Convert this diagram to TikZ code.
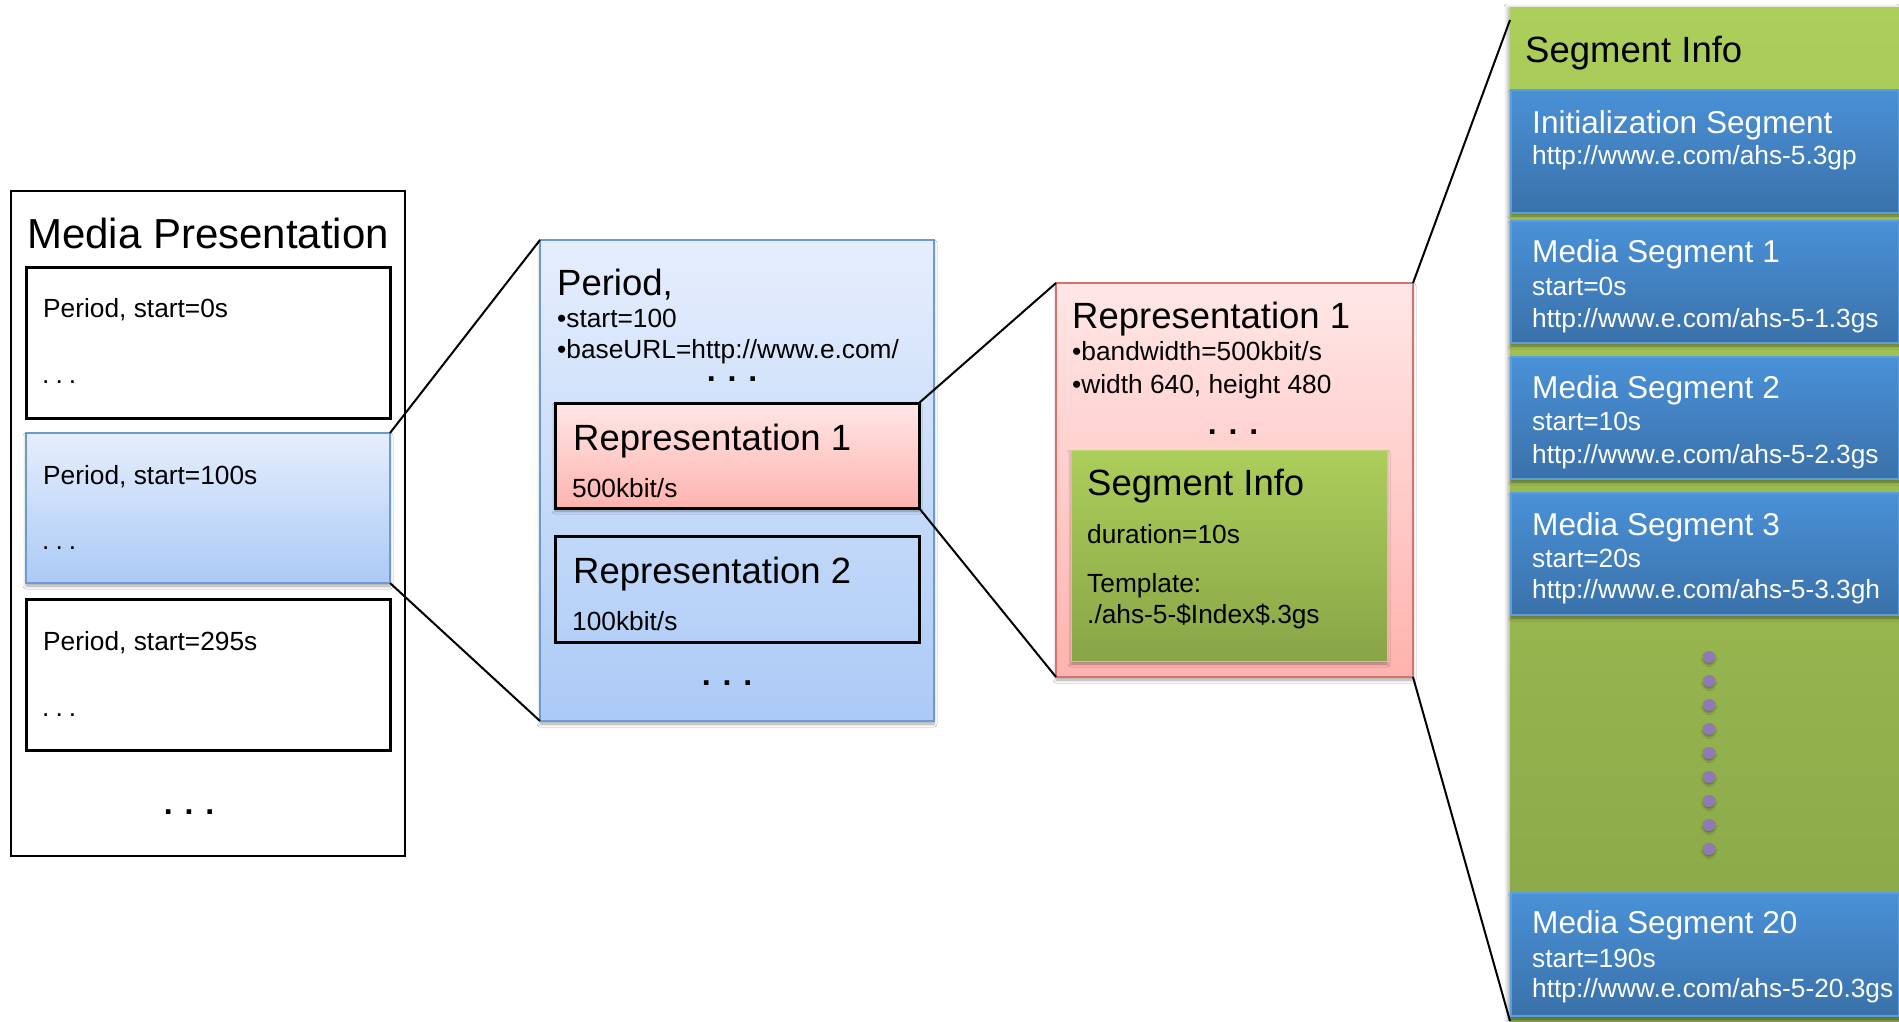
\documentclass[tikz,border=0pt]{standalone}
\usepackage{fontspec}
\setmainfont{Liberation Sans}
\usetikzlibrary{shadows.blur}

\definecolor{perTop}{HTML}{E6EEFD}
\definecolor{perBot}{HTML}{ABCAF6}
\definecolor{perLine}{HTML}{6C9BD4}
\definecolor{repTop}{HTML}{FFE7E7}
\definecolor{repBot}{HTML}{FFB3AE}
\definecolor{repLine}{HTML}{D7726B}
\definecolor{grnTop}{HTML}{ACCE5B}
\definecolor{grnBot}{HTML}{88A547}
\definecolor{segTop}{HTML}{4A91D8}
\definecolor{segBot}{HTML}{3A71A9}
\definecolor{segLine}{HTML}{5C9DDB}
\definecolor{dotPurple}{HTML}{9079B6}

\newcommand\fsz[1]{\fontsize{#1}{#1}\selectfont}
\newcommand\spdots{.\hspace{6pt}.\hspace{6pt}.}

\tikzset{
  x=1pt, y=-1pt,
  frame/.style={rectangle, inner sep=0pt, anchor=north west, outer sep=0pt},
  plainbox/.style={frame, draw=black, line width=3pt},
  periodbox/.style={frame, draw=perLine, line width=1.5pt, top color=perTop, bottom color=perBot,
    blur shadow={shadow xshift=0pt, shadow yshift=-3pt, shadow blur radius=3pt, shadow opacity=35}},
  repsmall/.style={frame, draw=black, line width=3pt, top color=repTop, bottom color=repBot,
    blur shadow={shadow xshift=0pt, shadow yshift=-3pt, shadow blur radius=3pt, shadow opacity=35}},
  repbig/.style={frame, draw=repLine, line width=1.5pt, top color=repTop, bottom color=repBot,
    blur shadow={shadow xshift=0pt, shadow yshift=-3pt, shadow blur radius=3pt, shadow opacity=35}},
  greenbox/.style={frame, draw=grnTop!80!white, line width=1pt, top color=grnTop, bottom color=grnBot,
    blur shadow={shadow xshift=0pt, shadow yshift=-3pt, shadow blur radius=3pt, shadow opacity=35}},
  segbox/.style={frame, draw=segLine, line width=1.2pt, top color=segTop, bottom color=segBot,
    blur shadow={shadow xshift=0pt, shadow yshift=-3pt, shadow blur radius=3pt, shadow opacity=40}},
  lbl/.style={inner sep=0pt, anchor=base west},
  big/.style={lbl, font=\fsz{36.5}},
  body/.style={lbl, font=\fsz{26.3}},
  segtitle/.style={lbl, font=\fsz{31.6}, text=white},
  segtext/.style={lbl, font=\fsz{26.3}, text=white},
  bigdots/.style={inner sep=0pt, anchor=center, font=\fsz{32}\bfseries},
  smalldots/.style={inner sep=0pt, anchor=west, font=\fsz{26.3}},
  link/.style={draw=black, line width=2pt},
  seqdot/.style={circle, fill=dotPurple, minimum size=12pt, inner sep=0pt,
    blur shadow={shadow xshift=0pt, shadow yshift=-2pt, shadow blur radius=1.5pt, shadow opacity=30}},
}

\begin{document}
\begin{tikzpicture}
\useasboundingbox (0,0) rectangle (1899,1021);
\fill[white] (0,0) rectangle (1899,1021);

% ---------- Media Presentation ----------
\node[frame, draw=black, line width=2pt, minimum width=394pt, minimum height=665pt] (mp) at (11,191) {};
\node[lbl, font=\fsz{42}] (mptitle) at (27,248) {Media Presentation};

\node[plainbox, minimum width=364pt, minimum height=151pt] (per1) at (26,267) {};
\node[body] (per1t) at (43,317) {Period, start=0s};
\node[smalldots] (per1d) at (42,382) {\spdots};

\node[periodbox, minimum width=364pt, minimum height=150pt] (per2) at (26,433) {};
\node[body] (per2t) at (43,484) {Period, start=100s};
\node[smalldots] (per2d) at (42,548) {\spdots};

\node[plainbox, minimum width=364pt, minimum height=151pt] (per3) at (26,599) {};
\node[body] (per3t) at (43,650) {Period, start=295s};
\node[smalldots] (per3d) at (42,715) {\spdots};

\node[bigdots] (mpdots) at (189,812) {. . .};

% ---------- Period detail ----------
\node[periodbox, minimum width=394pt, minimum height=481pt] (period) at (540,240) {};
\node[big] (periodt) at (557,295) {Period,};
\node[body] (periods) at (557,327) {•start=100};
\node[body] (periodb) at (557,358) {•baseURL=http://www.e.com/};
\node[bigdots] (perioddots1) at (732,379) {. . .};

\node[repsmall, minimum width=364pt, minimum height=105pt] (rep1s) at (555,403) {};
\node[big] (rep1st) at (573,450) {Representation 1};
\node[body] (rep1sb) at (572,497) {500kbit/s};

\node[plainbox, minimum width=364pt, minimum height=106pt] (rep2s) at (555,536) {};
\node[big] (rep2st) at (573,583) {Representation 2};
\node[body] (rep2sb) at (572,630) {100kbit/s};

\node[bigdots] (perioddots2) at (727,683) {. . .};

% ---------- Representation detail ----------
\node[repbig, minimum width=357pt, minimum height=394pt] (rep) at (1056,283) {};
\node[big] (rept) at (1072,328) {Representation 1};
\node[body] (repb) at (1072,360) {•bandwidth=500kbit/s};
\node[body] (repw) at (1072,393) {•width 640, height 480};
\node[bigdots] (repdots) at (1233,432) {. . .};

\node[greenbox, minimum width=316pt, minimum height=211pt] (seginfo) at (1071,450) {};
\node[big] (seginfot) at (1087,495) {Segment Info};
\node[body] (seginfod) at (1087,543) {duration=10s};
\node[body] (seginfotp) at (1087,592) {Template:};
\node[body] (seginfop) at (1087,623) {./ahs-5-\$Index\$.3gs};

% ---------- Segment Info column ----------
\node[frame, top color=grnTop, bottom color=grnBot, minimum width=389pt, minimum height=1014pt,
  blur shadow={shadow xshift=-3pt, shadow yshift=0pt, shadow blur radius=3pt, shadow opacity=25}] (segcol) at (1510,7) {};
\coordinate (segtop) at (1510,20);
\node[big] (segcolt) at (1525,62) {Segment Info};

\node[segbox, minimum width=388pt, minimum height=123pt] (init) at (1511,90) {};
\node[segtitle] (initt) at (1532,133) {Initialization Segment};
\node[segtext] (initu) at (1532,164) {http://www.e.com/ahs-5.3gp};

\node[segbox, minimum width=388pt, minimum height=122pt] (ms1) at (1511,221) {};
\node[segtitle] (ms1t) at (1532,262) {Media Segment 1};
\node[segtext] (ms1s) at (1532,295) {start=0s};
\node[segtext] (ms1u) at (1532,327) {http://www.e.com/ahs-5-1.3gs};

\node[segbox, minimum width=388pt, minimum height=122pt] (ms2) at (1511,357) {};
\node[segtitle] (ms2t) at (1532,398) {Media Segment 2};
\node[segtext] (ms2s) at (1532,430) {start=10s};
\node[segtext] (ms2u) at (1532,463) {http://www.e.com/ahs-5-2.3gs};

\node[segbox, minimum width=388pt, minimum height=122pt] (ms3) at (1511,493) {};
\node[segtitle] (ms3t) at (1532,535) {Media Segment 3};
\node[segtext] (ms3s) at (1532,567) {start=20s};
\node[segtext] (ms3u) at (1532,598) {http://www.e.com/ahs-5-3.3gh};

\foreach \i in {0,...,8} {
  \node[seqdot] (gap\i) at (1709,657+24*\i) {};
}

\node[segbox, minimum width=388pt, minimum height=123pt] (ms20) at (1511,893) {};
\node[segtitle] (ms20t) at (1532,933) {Media Segment 20};
\node[segtext] (ms20s) at (1532,967) {start=190s};
\node[segtext] (ms20u) at (1532,997) {http://www.e.com/ahs-5-20.3gs};

% ---------- zoom connectors ----------
\draw[link] (per2.north east) -- (period.north west);
\draw[link] (per2.south east) -- (period.south west);
\draw[link] (rep1s.north east) -- (rep.north west);
\draw[link] (rep1s.south east) -- (rep.south west);
\draw[link] (rep.north east) -- (segtop);
\draw[link] (rep.south east) -- (segcol.south west);
\end{tikzpicture}
\end{document}
